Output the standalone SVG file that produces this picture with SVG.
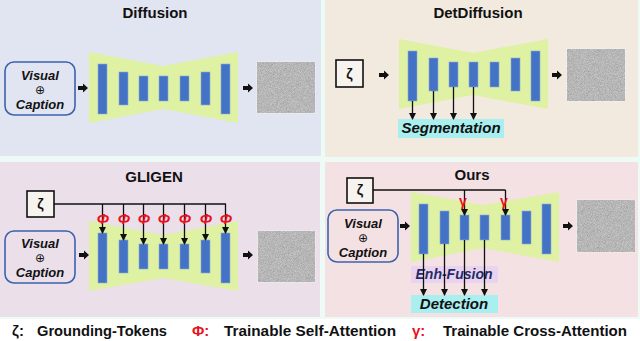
<svg xmlns="http://www.w3.org/2000/svg" width="640" height="341" viewBox="0 0 640 341">
<defs>
<style>
.t{font-family:"Liberation Sans",Arial,sans-serif;font-weight:bold;fill:#111;}
.title{font-size:15px;text-anchor:middle;}
.vc{font-size:13px;font-style:italic;text-anchor:middle;}
.op{font-family:"DejaVu Sans",sans-serif;font-size:12px;font-weight:normal;text-anchor:middle;fill:#111;}
.lab{font-size:15px;font-style:italic;text-anchor:middle;}
.bar{fill:#4472c4;stroke:#8eaadb;stroke-width:0.6;}
.unet{fill:#dff1a2;}
.vbox{fill:none;stroke:#3d62ad;stroke-width:1.6;}
.zbox{fill:#f7f3ee;stroke:#111;stroke-width:1.6;}
.ln{stroke:#111;stroke-width:1.3;fill:none;}
.arr{stroke:#111;stroke-width:1.3;fill:none;marker-end:url(#ah);}
.red{fill:#e8121c;}
.phi{font-size:15px;font-style:italic;text-anchor:middle;}
.gam{font-size:14px;text-anchor:middle;}
.leg{font-size:15px;}
.noise{fill:#7a7a7a;stroke:#f0f0f0;stroke-width:1;}
</style>
<marker id="ah" markerWidth="7" markerHeight="7" refX="6" refY="3.5" orient="auto" markerUnits="userSpaceOnUse">
<path d="M0,0 L7,3.5 L0,7 z" fill="#111"/>
</marker>
<path id="blk" d="M0,-2 L5,-2 L5,-4.5 L10,0 L5,4.5 L5,2 L0,2 z" fill="#111"/>
<filter id="noise" x="0" y="0" width="100%" height="100%">
<feTurbulence type="fractalNoise" baseFrequency="1.3" numOctaves="2" seed="4"/>
<feColorMatrix type="matrix" values="0.2 0.2 0.2 0 0.17  0.2 0.2 0.2 0 0.17  0.2 0.2 0.2 0 0.17  0 0 0 0 1"/>
</filter>
</defs>
<rect width="640" height="341" fill="#ffffff"/>
<rect width="640" height="319" fill="#eefaf6"/>
<rect x="0" y="0" width="321" height="156" fill="#e1e5f1"/>
<rect x="325" y="0" width="313" height="157" fill="#f2eadf"/>
<rect x="0" y="162" width="320" height="155" fill="#ebdfea"/>
<rect x="325" y="162" width="313" height="155" fill="#f4e1e3"/>

<!-- Diffusion -->
<g id="diffusion">
<text class="t title" x="155" y="18">Diffusion</text>
<g id="d-input"><rect class="vbox" x="5" y="62" width="70" height="53" rx="9"/>
<text class="t vc" x="40" y="80">Visual</text>
<text class="op" x="40" y="94">⊕</text>
<text class="t vc" x="40" y="109">Caption</text></g>
<g id="d-unet"><polygon class="unet" points="89,52 163,66 238,52 238,123 163,109 89,123"/>
<rect class="bar" x="98" y="64" width="9" height="50"/>
<rect class="bar" x="119" y="72" width="9" height="33"/>
<rect class="bar" x="139" y="76" width="9" height="25"/>
<rect class="bar" x="159" y="76" width="9" height="25"/>
<rect class="bar" x="180" y="76" width="9" height="25"/>
<rect class="bar" x="201" y="72" width="9" height="33"/>
<rect class="bar" x="221" y="64" width="9" height="50"/></g>
<g id="d-out"><rect class="noise" x="257" y="62" width="58" height="51"/><rect x="257.5" y="62.5" width="57" height="50" filter="url(#noise)"/></g>
</g>

<!-- DetDiffusion -->
<g id="detdiffusion">
<text class="t title" x="478" y="18">DetDiffusion</text>
<g id="dd-zeta"><rect class="zbox" x="336" y="60" width="27" height="27"/>
<text class="t" x="349.5" y="79" font-size="14" text-anchor="middle">ζ</text></g>
<g id="dd-unet"><polygon class="unet" points="399,39 473,53 548,39 548,109 473,95 399,109"/>
<rect class="bar" x="408" y="51" width="9" height="50"/>
<rect class="bar" x="429" y="58" width="9" height="33"/>
<rect class="bar" x="449" y="62" width="9" height="25"/>
<rect class="bar" x="469" y="62" width="9" height="25"/>
<rect class="bar" x="490" y="62" width="9" height="25"/>
<rect class="bar" x="511" y="58" width="9" height="33"/>
<rect class="bar" x="531" y="51" width="9" height="50"/></g>
<g id="dd-seg"><rect x="398" y="119" width="106" height="19" fill="#a9eff0"/>
<text class="t lab" x="451" y="133">Segmentation</text></g>
<g id="dd-out"><rect class="noise" x="567" y="49" width="58" height="52"/><rect x="567.5" y="49.5" width="57" height="51" filter="url(#noise)"/></g>
</g>

<!-- GLIGEN -->
<g id="gligen">
<text class="t title" x="154" y="182">GLIGEN</text>
<g id="g-zeta"><rect class="zbox" x="27" y="191" width="27" height="26"/>
<text class="t" x="40.5" y="209" font-size="14" text-anchor="middle">ζ</text></g>
<g id="g-input"><rect class="vbox" x="5" y="231" width="70" height="52" rx="9"/>
<text class="t vc" x="40" y="248">Visual</text>
<text class="op" x="40" y="262">⊕</text>
<text class="t vc" x="40" y="277">Caption</text></g>
<g id="g-unet"><polygon class="unet" points="89,221 163,235 238,221 238,291 163,278 89,291"/>
<rect class="bar" x="98" y="233" width="9" height="50"/>
<rect class="bar" x="119" y="240" width="9" height="33"/>
<rect class="bar" x="139" y="244" width="9" height="25"/>
<rect class="bar" x="159" y="244" width="9" height="25"/>
<rect class="bar" x="180" y="244" width="9" height="25"/>
<rect class="bar" x="201" y="240" width="9" height="33"/>
<rect class="bar" x="221" y="233" width="9" height="50"/></g>
<g id="g-out"><rect class="noise" x="258" y="231" width="57" height="51"/><rect x="258.5" y="231.5" width="56" height="50" filter="url(#noise)"/></g>
</g>

<!-- Ours -->
<g id="ours">
<text class="t title" x="472" y="180">Ours</text>
<g id="o-zeta"><rect class="zbox" x="347" y="178" width="26" height="25"/>
<text class="t" x="360" y="195" font-size="14" text-anchor="middle">ζ</text></g>
<g id="o-input"><rect class="vbox" x="328" y="210" width="70" height="52" rx="9"/>
<text class="t vc" x="363" y="228">Visual</text>
<text class="op" x="363" y="242">⊕</text>
<text class="t vc" x="363" y="257">Caption</text></g>
<g id="o-unet"><polygon class="unet" points="411,192 483,205 559,192 559,262 483,248 411,262"/>
<rect class="bar" x="419" y="204" width="9" height="50"/>
<rect class="bar" x="440" y="211" width="9" height="33"/>
<rect class="bar" x="460" y="215" width="9" height="25"/>
<rect class="bar" x="480" y="215" width="9" height="25"/>
<rect class="bar" x="501" y="215" width="9" height="25"/>
<rect class="bar" x="522" y="211" width="9" height="33"/>
<rect class="bar" x="542" y="204" width="9" height="50"/></g>
<g id="o-enh"><rect x="411" y="266" width="87" height="17" fill="#ebd3ef"/>
<text class="t lab" x="454" y="279" style="fill:#1f2d6b;font-size:14px">Enh-Fusion</text></g>
<g id="o-det"><rect x="411" y="295" width="87" height="18" fill="#a9eff0"/>
<text class="t lab" x="454" y="309">Detection</text></g>
<g id="o-out"><rect class="noise" x="577" y="200" width="58" height="52"/><rect x="577.5" y="200.5" width="57" height="51" filter="url(#noise)"/></g>
</g>

<!-- connectors -->
<g id="connectors">
<use href="#blk" x="78" y="88"/>
<use href="#blk" x="243" y="88"/>
<use href="#blk" x="379" y="75"/>
<use href="#blk" x="552" y="75"/>
<use href="#blk" x="79" y="255"/>
<use href="#blk" x="243" y="255"/>
<use href="#blk" x="400" y="226"/>
<use href="#blk" x="563" y="226"/>
<line class="arr" x1="412.5" y1="101" x2="412.5" y2="119"/>
<line class="arr" x1="433.5" y1="91" x2="433.5" y2="119"/>
<line class="arr" x1="453.5" y1="87" x2="453.5" y2="119"/>
<line class="arr" x1="473.5" y1="87" x2="473.5" y2="119"/>
<line class="ln" x1="54" y1="204" x2="226" y2="204"/>
<line class="arr" x1="102.5" y1="204" x2="102.5" y2="233"/>
<line class="arr" x1="123.5" y1="204" x2="123.5" y2="240"/>
<line class="arr" x1="143.5" y1="204" x2="143.5" y2="244"/>
<line class="arr" x1="163.5" y1="204" x2="163.5" y2="244"/>
<line class="arr" x1="184.5" y1="204" x2="184.5" y2="244"/>
<line class="arr" x1="205.5" y1="204" x2="205.5" y2="240"/>
<line class="arr" x1="225.5" y1="204" x2="225.5" y2="233"/>
<line class="ln" x1="373" y1="190" x2="505.5" y2="190"/>
<line class="arr" x1="464.5" y1="190" x2="464.5" y2="215"/>
<line class="arr" x1="505.5" y1="190" x2="505.5" y2="215"/>
<line class="arr" x1="423.5" y1="254" x2="423.5" y2="295"/>
<line class="arr" x1="444.5" y1="244" x2="444.5" y2="295"/>
<line class="arr" x1="464.5" y1="240" x2="464.5" y2="295"/>
<line class="arr" x1="484.5" y1="240" x2="484.5" y2="295"/>
</g>

<!-- attention marks -->
<g id="phi-marks">
<text class="t red phi" x="103" y="224">Φ</text>
<text class="t red phi" x="124" y="224">Φ</text>
<text class="t red phi" x="144" y="224">Φ</text>
<text class="t red phi" x="164" y="224">Φ</text>
<text class="t red phi" x="185" y="224">Φ</text>
<text class="t red phi" x="206" y="224">Φ</text>
<text class="t red phi" x="226" y="224">Φ</text>
</g>
<g id="gamma-marks">
<text class="t red gam" x="463" y="206">γ</text>
<text class="t red gam" x="504" y="206">γ</text>
</g>

<!-- legend -->
<g id="legend">
<text class="t leg" x="12" y="336">ζ:</text>
<text class="t leg" x="37" y="336" textLength="130" lengthAdjust="spacingAndGlyphs">Grounding-Tokens</text>
<text class="t leg red" x="192" y="336">Φ:</text>
<text class="t leg" x="224" y="336" textLength="172" lengthAdjust="spacingAndGlyphs">Trainable Self-Attention</text>
<text class="t leg red" x="412" y="336">γ:</text>
<text class="t leg" x="443" y="336" textLength="184" lengthAdjust="spacingAndGlyphs">Trainable Cross-Attention</text>
</g>
</svg>
